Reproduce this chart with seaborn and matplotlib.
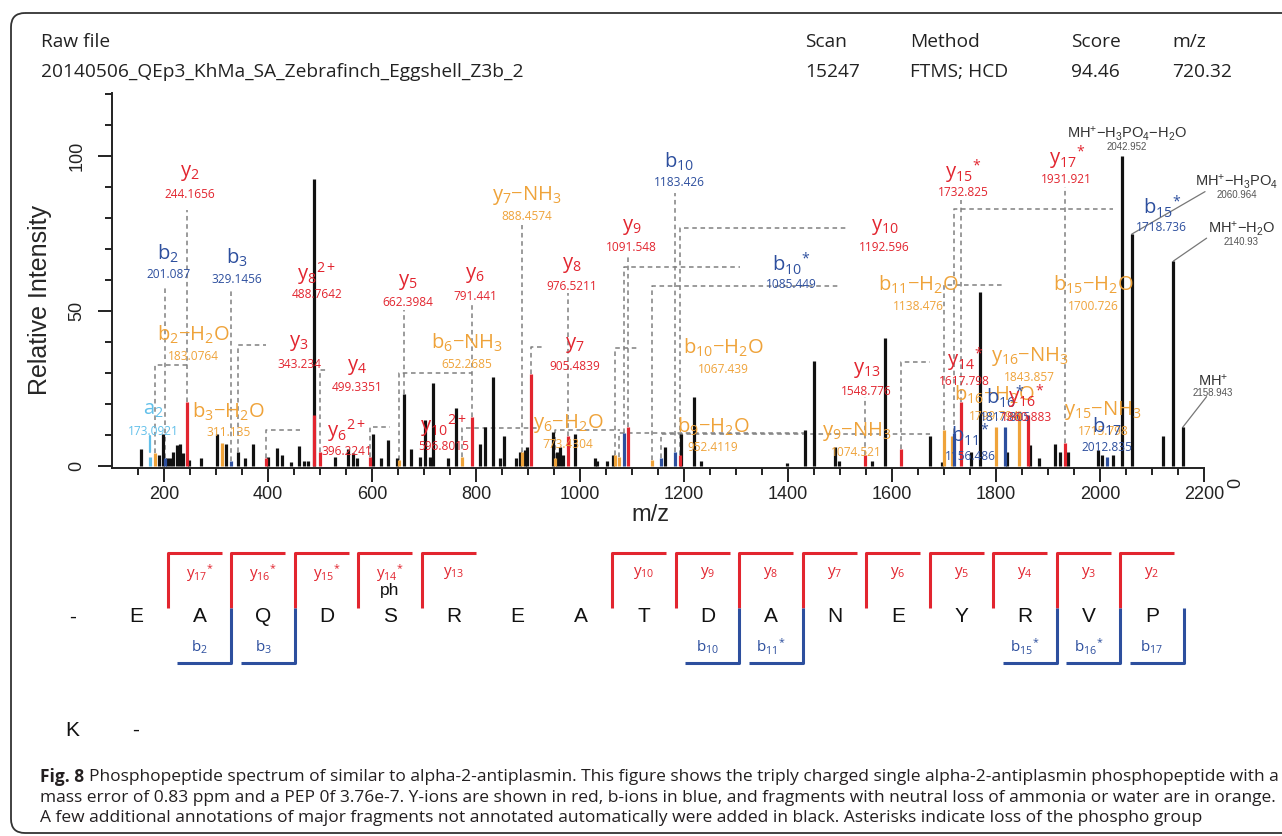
import matplotlib
matplotlib.use("Agg")
import matplotlib.pyplot as plt
import seaborn as sns
import pandas as pd
import numpy as np
import re
from matplotlib.patches import FancyBboxPatch
from matplotlib.ticker import FixedLocator

# ---------------- data ----------------
header_cols = ['Raw file', 'Scan', 'Method', 'Score', 'm/z']
header_vals = ['20140506_QEp3_KhMa_SA_Zebrafinch_Eggshell_Z3b_2', '15247', 'FTMS; HCD', '94.46', '720.32']

# unannotated peaks (black)
black_mz = [155.2, 191.0, 198.7, 205.0, 211.5, 218.0, 225.6, 230.8, 236.0, 248.7,
            270.5, 301.3, 319.2, 356.4, 370.5, 400.6, 416.7, 426.3, 443.6, 460.2,
            469.0, 477.5, 488.3, 528.8, 554.5, 562.8, 571.8, 601.3, 617.3, 631.4,
            647.4, 674.4, 692.3, 702.0, 711.5, 718.0, 746.8, 761.5, 807.7, 817.3,
            833.3, 846.0, 853.8, 877.0, 884.6, 894.0, 898.7, 947.4, 956.4, 961.5,
            968.0, 990.4, 1029.0, 1032.0, 1051.0, 1064.0, 1163.5, 1195.0, 1219.0, 1232.0,
            1398.7, 1432.7, 1450.6, 1490.4, 1498.7, 1560.9, 1586.5, 1673.0, 1695.6, 1751.3,
            1769.2, 1820.5, 1865.4, 1883.3, 1913.5, 1923.0, 1939.0, 1996.7, 2003.2, 2025.6,
            2121.7]
black_int = [5.3, 3.4, 10.4, 2.4, 2.4, 4.5, 6.7, 7.2, 4.0, 2.0,
             2.5, 10.4, 7.2, 2.4, 7.2, 3.0, 5.6, 3.4, 1.2, 6.4,
             1.5, 1.5, 92.4, 3.0, 5.3, 4.0, 2.4, 10.4, 2.4, 8.3,
             2.4, 5.3, 3.0, 14.9, 3.0, 26.6, 2.4, 18.5, 7.2, 12.6,
             28.5, 2.4, 9.6, 2.4, 4.5, 5.0, 6.1, 11.0, 4.5, 6.1,
             3.4, 10.4, 2.4, 1.5, 1.5, 3.4, 6.1, 10.4, 22.3, 1.5,
             0.8, 11.5, 33.9, 6.1, 1.5, 1.5, 41.1, 9.6, 1.2, 4.5,
             55.9, 4.5, 6.8, 2.4, 7.2, 4.5, 4.5, 5.0, 3.4, 3.4,
             9.6]

# annotated fragment ions
ion_keys = ['a2', 'b2-H2O', 'b2', 'y2', 'b3-H2O', 'b3', 'y3', 'y6 2+', 'y8 2+', 'y4',
            'y10 2+', 'b6-NH3', 'y5', 'y6-H2O', 'y6', 'y7-NH3', 'y7', 'b9-H2O', 'y8', 'b10-H2O',
            'y9-NH3', 'b10*', 'y9', 'b11-H2O', 'b11*', 'b10', 'y10', 'y13', 'y14*', 'b15-H2O',
            'y15-NH3', 'b15*', 'y15*', 'b16-H2O', 'b16*', 'y16-NH3', 'y16*', 'y17*', 'b17']
ion_mz_text = ['173.0921', '183.0764', '201.087', '244.1656', '311.135', '329.1456', '343.234',
               '396.2241', '488.7642', '499.3351', '596.8015', '652.2685', '662.3984', '773.4304',
               '791.441', '888.4574', '905.4839', '952.4119', '976.5211', '1067.439', '1074.521',
               '1085.449', '1091.548', '1138.476', '1156.486', '1183.426', '1192.596', '1548.776',
               '1617.798', '1700.726', '1715.798', '1718.736', '1732.825', '1799.794', '1817.805',
               '1843.857', '1860.883', '1931.921', '2012.835']
ion_int = [3.0, 4.0, 2.5, 20.6, 7.5, 1.5, 4.5, 2.5, 16.3, 4.5,
           3.0, 2.0, 23.0, 3.0, 15.8, 4.5, 29.5, 2.5, 9.6, 3.5,
           3.0, 10.5, 12.6, 2.0, 2.5, 4.5, 3.4, 3.4, 5.5, 11.7,
           9.6, 10.5, 20.6, 12.5, 12.5, 17.8, 16.3, 7.4, 3.0]
ion_bar = ['a', 'n', 'b', 'y', 'n', 'b', 'k', 'y', 'y', 'y',
           'y', 'n', 'k', 'n', 'y', 'n', 'y', 'n', 'y', 'n',
           'n', 'b', 'y', 'n', 'b', 'b', 'y', 'y', 'y', 'n',
           'n', 'b', 'y', 'n', 'b', 'n', 'y', 'y', 'b']

# precursor related peaks (annotated in black)
mh_labels = [r'$\mathregular{MH^{+}{-}H_{3}PO_{4}{-}H_{2}O}$', r'$\mathregular{MH^{+}{-}H_{3}PO_{4}}$',
             r'$\mathregular{MH^{+}{-}H_{2}O}$', r'$\mathregular{MH^{+}}$']
mh_mz_text = ['2042.952', '2060.964', '2140.93', '2158.943']
mh_int = [100.0, 74.7, 66.0, 12.4]

# peptide sequence and observed cleavages
seq_row1 = ['-'] + list('EAQDSREATDANEYRVP')
seq_row2 = ['K', '-']
y_cuts = [17, 16, 15, 14, 13, 10, 9, 8, 7, 6, 5, 4, 3, 2]
y_star = [1, 1, 1, 1, 0, 0, 0, 0, 0, 0, 0, 0, 0, 0]
b_cuts = [2, 3, 10, 11, 15, 16, 17]
b_star = [0, 0, 0, 1, 1, 1, 0]

caption_bold = 'Fig. 8'
caption_lines = [
    'Phosphopeptide spectrum of similar to alpha-2-antiplasmin. This figure shows the triply charged single alpha-2-antiplasmin phosphopeptide with a',
    'mass error of 0.83 ppm and a PEP 0f 3.76e-7. Y-ions are shown in red, b-ions in blue, and fragments with neutral loss of ammonia or water are in orange.',
    'A few additional annotations of major fragments not annotated automatically were added in black. Asterisks indicate loss of the phospho group',
]

# ---------------- layout ----------------
label_xy = {
    'a2': (179, 18.0), 'b2-H2O': (256, 42.2), 'b2': (208, 68.5), 'y2': (250, 94.3),
    'b3-H2O': (324, 17.4), 'b3': (340, 66.9), 'y3': (460, 39.5), 'y6 2+': (551, 11.5),
    'y8 2+': (494, 62.1), 'y4': (571, 31.9), 'y10 2+': (737, 13.1), 'b6-NH3': (782, 39.5),
    'y5': (669, 59.4), 'y6-H2O': (977, 13.6), 'y6': (798, 61.5), 'y7-NH3': (897, 87.3),
    'y7': (990, 38.9), 'b9-H2O': (1256, 12.6), 'y8': (984, 64.7), 'b10-H2O': (1276, 38.0),
    'y9-NH3': (1532, 11.0), 'b10*': (1407, 65.3), 'y9': (1099, 77.1), 'b11-H2O': (1650, 58.3),
    'b11*': (1750, 9.9), 'b10': (1191, 98.1), 'y10': (1586, 77.1), 'y13': (1551, 30.9),
    'y14*': (1740, 34.1), 'b15-H2O': (1987, 58.3), 'y15-NH3': (2006, 18.0), 'b15*': (2119, 83.5),
    'y15*': (1737, 94.8), 'b16-H2O': (1796, 22.8), 'b16*': (1818, 22.3), 'y16-NH3': (1865, 35.2),
    'y16*': (1858, 22.3), 'y17*': (1936, 99.2), 'b17': (2013, 12.6),
}
leader = {
    'y2': (82.5, None), 'b2': (58, None), 'b3': (56.7, None), 'y8 2+': (53.5, None),
    'y5': (50.2, None), 'y6': (52.5, None), 'b2-H2O': (32.5, 244), 'y3': (38.9, 397),
    'y4': (30.9, 513), 'b6-NH3': (30, 792), 'y6 2+': (11.5, 461), 'y10 2+': (12.5, 635),
    'y7-NH3': (77.6, None), 'y8': (55.7, None), 'y7': (38.4, 933), 'y6-H2O': (12.2, 923),
    'y9': (67.6, None), 'b10': (88, None), 'b10*': (64.2, 1308), 'b10-H2O': (37.9, 1109),
    'b9-H2O': (11.5, 1077), 'y10': (76.8, 1513), 'b11-H2O': (58, 1496), 'y9-NH3': (10.5, 1436),
    'b11*': (10.2, 1673), 'y13': (22.2, None), 'y14*': (33.5, 1673), 'y15*': (85.7, None),
    'y17*': (89.9, None), 'b15*': (82.7, 2025), 'b15-H2O': (58.3, 1817),
}
mh_label_xy = [(2051, 107.0), (2263, 91.6), (2272, 76.3), (2217, 27.6)]
mh_line_end = [None, (2202, 88.4), (2205, 73.4), (2205, 22.3)]

RED, BLUE, ORANGE, LIGHT = '#e2252f', '#2d4f9e', '#efa33a', '#62c0ea'
palette = {'k': '#111111', 'y': RED, 'b': BLUE, 'n': ORANGE, 'a': LIGHT}
LABEL_FONT = 'Open Sans'

sns.set_theme(style='ticks')
plt.rcParams['font.family'] = ['Liberation Sans', 'DejaVu Sans']

W, H = 1282, 836
fig = plt.figure(figsize=(W / 100, H / 100), dpi=100)
fig.patch.set_facecolor('white')

# overlay in pixel units for header / sequence / caption
ov = fig.add_axes([0, 0, 1, 1], zorder=0)
ov.set_xlim(0, W)
ov.set_ylim(H, 0)
ov.axis('off')

ax = fig.add_axes([112 / W, 1 - 467.7 / H, (1204 - 112) / W, (467.7 - 93) / H], zorder=1)
ax.patch.set_alpha(0)


def ion_tex(key):
    m = re.match(r'([aby])(\d+)(\*?)( 2\+)?(?:-(H2O|NH3))?$', key)
    ion, n, star, dbl, loss = m.groups()
    s = ion + '_{' + n + '}'
    if dbl:
        s += '{}^{2+}'
    if star:
        s += '{}^{*}'
    if loss:
        s += r'{-}' + {'H2O': 'H_{2}O', 'NH3': 'NH_{3}'}[loss]
    return r'$\mathregular{' + s + '}$'


def ion_color(key):
    if key.startswith('a'):
        return LIGHT
    if '-' in key:
        return ORANGE
    return BLUE if key.startswith('b') else RED


# ---------------- spectrum ----------------
peaks = pd.concat([
    pd.DataFrame({'mz': black_mz, 'intensity': black_int, 'kind': 'k'}),
    pd.DataFrame({'mz': [float(s) for s in mh_mz_text], 'intensity': mh_int, 'kind': 'k'}),
    pd.DataFrame({'mz': [float(s) for s in ion_mz_text], 'intensity': ion_int, 'kind': ion_bar}),
], ignore_index=True)

for kind in ['k', 'n', 'b', 'a', 'y']:
    g = peaks[peaks['kind'] == kind]
    ax.vlines(g['mz'], 0, g['intensity'], color=palette[kind], lw=2.3, zorder=3)

dash = dict(color='#808080', lw=1.1, ls=(0, (3, 2.4)), zorder=2)
for key, mzt, inten in zip(ion_keys, ion_mz_text, ion_int):
    mz = float(mzt)
    col = ion_color(key)
    lx, ly = label_xy[key]
    ax.text(lx, ly, ion_tex(key), color=col, fontsize=14.5, family=LABEL_FONT,
            ha='center', va='center', zorder=4)
    ax.text(lx, ly - 6.8, mzt, color=col, fontsize=8.6, family=LABEL_FONT,
            ha='center', va='center', zorder=4)
    if key in leader:
        ylev, xend = leader[key]
        xs, ys = [mz, mz], [inten, ylev]
        if xend is not None:
            xs.append(xend)
            ys.append(ylev)
        ax.plot(xs, ys, **dash)
    if key == 'a2':
        ax.plot([mz, mz], [inten + 1.5, inten + 6.5], color=LIGHT, lw=1.6, zorder=4)

for lab, mzt, inten, (lx, ly), end in zip(mh_labels, mh_mz_text, mh_int, mh_label_xy, mh_line_end):
    ax.text(lx, ly, lab, color='#333333', fontsize=10.5, ha='center', va='center', zorder=4)
    ax.text(lx, ly - 4.2, mzt, color='#555555', fontsize=7, ha='center', va='center', zorder=4)
    if end is not None:
        ax.plot([float(mzt), end[0]], [inten, end[1]], color='#777777', lw=0.9, zorder=2,
                clip_on=False)

ax.set_xlim(100, 2200)
ax.set_ylim(-0.6, 120.2)
sns.despine(ax=ax)
for side in ['left', 'bottom']:
    ax.spines[side].set_linewidth(1.4)
    ax.spines[side].set_color('#222222')

ax.xaxis.set_major_locator(FixedLocator(np.arange(200, 2201, 200)))
ax.xaxis.set_minor_locator(FixedLocator([v for v in range(150, 2200, 50) if v % 200]))
ax.yaxis.set_major_locator(FixedLocator([0, 50, 100]))
ax.yaxis.set_minor_locator(FixedLocator([v for v in range(10, 121, 10) if v % 50]))
ax.tick_params(axis='both', which='major', length=10, width=1.4, color='#222222',
               labelsize=13, labelcolor='#222222')
ax.tick_params(axis='both', which='minor', length=5, width=1.4, color='#222222')
ax.tick_params(axis='x', which='major', pad=3)
ax.tick_params(axis='y', which='major', pad=9, labelrotation=90)
for t in ax.get_yticklabels():
    t.set_va('center')

ax.set_xlabel('m/z', fontsize=17)
ax.xaxis.set_label_coords((650 - 112) / 1092, -(515 - 467.7) / 374.7)
ax.xaxis.label.set_va('center')
ax.set_ylabel('Relative Intensity', fontsize=18)
ax.yaxis.set_label_coords((40 - 112) / 1092, (467.7 - 300) / 374.7)
ax.yaxis.label.set_va('center')

ov.text(1236, 483, '0', rotation=90, fontsize=13, color='#222222', ha='center', va='center')

# ---------------- header ----------------
renderer = fig.canvas.get_renderer()


def fit_size(text, target_w, fs0=12.0, **kw):
    t = ov.text(0, 0, text, fontsize=fs0, **kw)
    w = t.get_window_extent(renderer).width
    t.remove()
    return fs0 * target_w / w


hdr_x = [41, 805, 910, 1071, 1172]
hfs = fit_size(header_vals[0], 482, family='Open Sans')
for x, c, v in zip(hdr_x, header_cols, header_vals):
    ov.text(x, 42, c, fontsize=hfs, family='Open Sans', color='#222222', ha='left', va='center')
    ov.text(x, 72, v, fontsize=hfs, family='Open Sans', color='#222222', ha='left', va='center')

# ---------------- sequence ----------------
x0, step = 72.5, 63.5
for i, aa in enumerate(seq_row1):
    ov.text(x0 + step * i, 617, aa, fontsize=15, color='#111111', ha='center', va='center')
for i, aa in enumerate(seq_row2):
    ov.text(x0 + step * i, 730, aa, fontsize=15, color='#111111', ha='center', va='center')
ov.text(x0 + step * 5, 590, 'ph', fontsize=12.5, color='#111111', ha='center', va='center')

for n, st in zip(y_cuts, y_star):
    cx = x0 + step * (18 - n + 0.5)
    ov.plot([cx, cx, cx + 54], [608, 553, 553], color=RED, lw=2.2, solid_capstyle='butt')
    lab = r'$\mathregular{y_{%d}%s}$' % (n, '{}^{*}' if st else '')
    ov.text(cx + step / 2, 573, lab, color=RED, fontsize=11, family=LABEL_FONT,
            ha='center', va='center')
for n, st in zip(b_cuts, b_star):
    cx = x0 + step * (n + 0.5)
    ov.plot([cx, cx, cx - 54], [608, 663, 663], color=BLUE, lw=2.2, solid_capstyle='butt')
    lab = r'$\mathregular{b_{%d}%s}$' % (n, '{}^{*}' if st else '')
    ov.text(cx - step / 2, 647, lab, color=BLUE, fontsize=11, family=LABEL_FONT,
            ha='center', va='center')

# ---------------- caption ----------------
cfs0 = 12.0
tb = ov.text(0, 0, caption_bold, fontsize=cfs0, family='Open Sans', weight='bold')
tr = ov.text(0, 0, caption_lines[0], fontsize=cfs0, family='Open Sans')
wsum = tb.get_window_extent(renderer).width + tr.get_window_extent(renderer).width
tb.remove()
tr.remove()
cfs = cfs0 * (1231 - 5) / wsum
tb = ov.text(40, 777, caption_bold, fontsize=cfs, family='Open Sans', weight='bold',
             color='#231f20', ha='left', va='center')
wb = tb.get_window_extent(renderer).width
for k, line in enumerate(caption_lines):
    x = 40 + wb + 5 if k == 0 else 40
    ov.text(x, 777 + 20.5 * k, line, fontsize=cfs, family='Open Sans', color='#231f20',
            ha='left', va='center')

# outer frame
frame = FancyBboxPatch((11, 13), 1310, 820, boxstyle='round,pad=0,rounding_size=14',
                       fill=False, ec='#333333', lw=1.3, clip_on=False)
ov.add_patch(frame)

fig.savefig('out.png', dpi=100)
